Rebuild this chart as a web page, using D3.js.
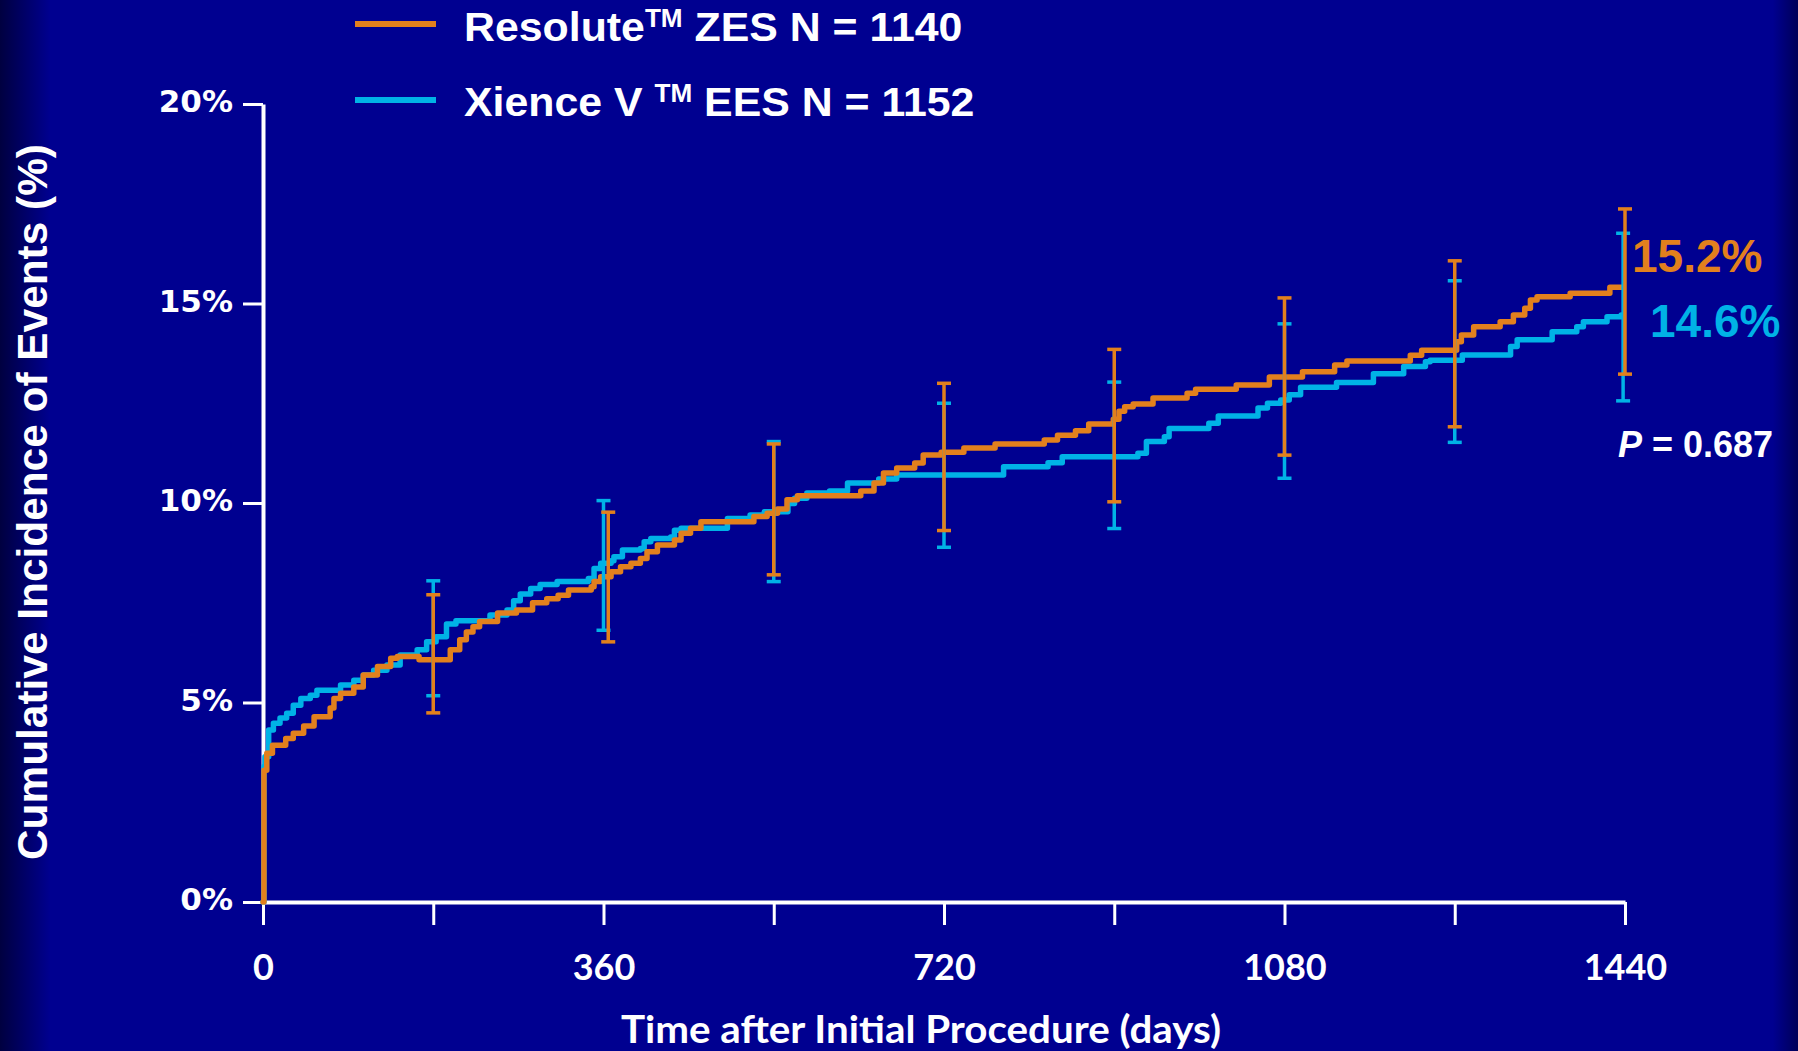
<!DOCTYPE html>
<html>
<head>
<meta charset="utf-8">
<script src="https://cdn.jsdelivr.net/npm/d3@7"></script>
<style>
  html, body { margin: 0; padding: 0; background: #000090; overflow: hidden; }
  svg { display: block; }
</style>
</head>
<body>
<script>
'use strict';

// Kaplan-Meier steps: [day, cumulative %]
const resoluteCurve = [
  [0, 0], [1, 3.3], [4, 3.73], [10, 3.93], [24, 4.1], [32, 4.23], [43, 4.41], [54, 4.64],
  [71, 4.86], [75, 5.1], [82, 5.23], [96, 5.39], [106, 5.69], [121, 5.9], [135, 6.11],
  [142, 6.15], [165, 6.07], [198, 6.32], [208, 6.57], [215, 6.77], [222, 6.9], [229, 7.03],
  [248, 7.24], [268, 7.32], [285, 7.5], [300, 7.6], [312, 7.69], [323, 7.82], [347, 7.9],
  [350, 8.03], [357, 8.15], [368, 8.28], [378, 8.4], [389, 8.49], [399, 8.61], [406, 8.78],
  [417, 8.95], [435, 9.07], [442, 9.24], [452, 9.37], [463, 9.53], [519, 9.66], [533, 9.74],
  [544, 9.85], [554, 10.08], [565, 10.18], [632, 10.3], [646, 10.5], [656, 10.75],
  [670, 10.88], [689, 11.0], [698, 11.2], [717, 11.27], [741, 11.38], [774, 11.48],
  [826, 11.58], [840, 11.7], [859, 11.81], [873, 11.98], [899, 12.1], [905, 12.3],
  [911, 12.41], [920, 12.48], [941, 12.63], [977, 12.75], [986, 12.85], [1029, 12.96],
  [1064, 13.16], [1099, 13.29], [1133, 13.46], [1146, 13.56], [1213, 13.7], [1225, 13.83],
  [1262, 14.04], [1267, 14.21], [1280, 14.42], [1308, 14.54], [1322, 14.71], [1334, 14.88],
  [1340, 15.09], [1347, 15.17], [1382, 15.26], [1424, 15.41], [1438, 15.41]
];

const xienceCurve = [
  [0, 0], [1, 3.4], [2, 3.64], [6, 4.31], [11, 4.48], [18, 4.61], [25, 4.73], [32, 4.93],
  [40, 5.1], [50, 5.18], [57, 5.31], [82, 5.44], [96, 5.56], [106, 5.69], [117, 5.81],
  [131, 5.94], [145, 6.19], [163, 6.32], [173, 6.52], [183, 6.65], [194, 6.97], [204, 7.05],
  [240, 7.19], [258, 7.32], [265, 7.55], [272, 7.72], [283, 7.86], [293, 7.96], [311, 8.03],
  [344, 8.11], [350, 8.36], [357, 8.49], [368, 8.55], [371, 8.65], [380, 8.82], [399, 8.86],
  [403, 9.03], [410, 9.11], [431, 9.15], [435, 9.32], [442, 9.37], [491, 9.61], [515, 9.7],
  [530, 9.78], [555, 9.99], [562, 10.12], [575, 10.25], [599, 10.3], [618, 10.5],
  [651, 10.6], [670, 10.7], [783, 10.91], [830, 11.01], [845, 11.16], [925, 11.25],
  [934, 11.54], [953, 11.66], [958, 11.87], [1000, 12.0], [1010, 12.18], [1052, 12.38],
  [1062, 12.5], [1076, 12.58], [1085, 12.71], [1097, 12.9], [1135, 13.02], [1174, 13.24],
  [1206, 13.42], [1229, 13.54], [1234, 13.58], [1268, 13.71], [1319, 13.92], [1326, 14.09],
  [1363, 14.29], [1389, 14.42], [1396, 14.54], [1421, 14.67], [1436, 14.71]
];

// 95% CI bars
const resoluteErrDays = [180, 365, 540, 720, 900, 1080, 1260, 1440];
const resoluteErrLow = [4.74, 6.52, 8.2, 9.31, 10.03, 11.2, 11.91, 13.23];
const resoluteErrHigh = [7.7, 9.77, 11.48, 13.0, 13.85, 15.14, 16.07, 17.37];

const xienceErrDays = [180, 360, 540, 720, 900, 1080, 1260, 1438];
const xienceErrLow = [5.17, 6.81, 8.03, 8.89, 9.36, 10.62, 11.52, 12.56];
const xienceErrHigh = [8.05, 10.06, 11.54, 12.5, 13.03, 14.49, 15.57, 16.76];

const xTicks = [0, 180, 360, 540, 720, 900, 1080, 1260, 1440];
const xTickLabels = ["0", "", "360", "", "720", "", "1080", "", "1440"];
const yTicks = [0, 5, 10, 15, 20];
const yTickLabels = ["0%", "5%", "10%", "15%", "20%"];

const seriesNames = ["Resolute", "Xience V"];
const seriesTags = ["ZES N = 1140", "EES N = 1152"];
const finalLabels = ["15.2%", "14.6%"];
const pValue = "0.687";

const colors = {
  "Resolute": "#e2801d",
  "Xience V": "#00b2e6"
};

let svgContainer = "";

window.onload = function () {
  svgContainer = d3.select('body')
    .append('svg')
    .attr('width', 1798)
    .attr('height', 1051);

  makeBackground();
  const map = drawAxes();
  plotData(map);
  makeLabels();
  createLegend();
};

function makeBackground() {
  const grad = svgContainer.append('defs')
    .append('linearGradient')
    .attr('id', 'bg')
    .attr('x1', 0).attr('x2', 1).attr('y1', 0).attr('y2', 0);
  grad.append('stop').attr('offset', '0').attr('stop-color', '#000040');
  grad.append('stop').attr('offset', '0.028').attr('stop-color', '#000090');
  grad.append('stop').attr('offset', '0.986').attr('stop-color', '#000090');
  grad.append('stop').attr('offset', '1').attr('stop-color', '#000058');

  svgContainer.append('rect')
    .attr('width', 1798)
    .attr('height', 1051)
    .attr('fill', 'url(#bg)');
}

function drawAxes() {
  const xScale = d3.scaleLinear()
    .domain([0, 1440])
    .range([263, 1625]);

  const yScale = d3.scaleLinear()
    .domain([0, 20])
    .range([902, 104]);

  const xAxis = d3.axisBottom(xScale)
    .tickValues(xTicks)
    .tickFormat((d, i) => xTickLabels[i])
    .tickSize(23)
    .tickSizeOuter(0);

  const gx = svgContainer.append('g')
    .attr('transform', 'translate(0, 902)')
    .call(xAxis);
  gx.select('.domain').attr('stroke', '#fff').attr('stroke-width', 4);
  gx.selectAll('.tick line').attr('stroke', '#fff').attr('stroke-width', 3);
  gx.selectAll('.tick text')
    .attr('fill', '#fff')
    .attr('y', 65)
    .attr('dy', '0.36em')
    .style('font-family', 'Lato, "Open Sans", sans-serif')
    .style('font-weight', 'bold')
    .style('font-size', '36px');

  const yAxis = d3.axisLeft(yScale)
    .tickValues(yTicks)
    .tickFormat((d, i) => yTickLabels[i])
    .tickSize(20)
    .tickPadding(10)
    .tickSizeOuter(0);

  const gy = svgContainer.append('g')
    .attr('transform', 'translate(263, 0)')
    .call(yAxis);
  gy.select('.domain').attr('stroke', '#fff').attr('stroke-width', 4);
  gy.selectAll('.tick line').attr('stroke', '#fff').attr('stroke-width', 3);
  gy.selectAll('.tick text')
    .attr('fill', '#fff')
    .attr('dy', '0.25em')
    .style('font-family', '"DejaVu Sans", Verdana, sans-serif')
    .style('font-weight', 'bold')
    .style('font-size', '31px');

  return { x: xScale, y: yScale };
}

function plotData(map) {
  const line = d3.line()
    .x(d => map.x(d[0]))
    .y(d => map.y(d[1]))
    .curve(d3.curveStepAfter);

  const curves = [
    { name: "Xience V", data: xienceCurve },
    { name: "Resolute", data: resoluteCurve }
  ];

  svgContainer.selectAll('.km')
    .data(curves)
    .enter()
    .append('path')
    .attr('class', 'km')
    .attr('d', d => line(d.data))
    .attr('fill', 'none')
    .attr('stroke', d => colors[d.name])
    .attr('stroke-width', 5.5)
    .attr('stroke-linejoin', 'round')
    .attr('stroke-linecap', 'round');

  const bars = [
    { name: "Xience V", days: xienceErrDays, lo: xienceErrLow, hi: xienceErrHigh },
    { name: "Resolute", days: resoluteErrDays, lo: resoluteErrLow, hi: resoluteErrHigh }
  ];

  bars.forEach(function (b) {
    const rows = b.days.map((d, i) => ({ day: d, lo: b.lo[i], hi: b.hi[i] }));
    const g = svgContainer.append('g')
      .attr('stroke', colors[b.name])
      .attr('stroke-width', 3.5);

    g.selectAll('.bar')
      .data(rows)
      .enter()
      .append('line')
      .attr('x1', d => map.x(d.day))
      .attr('x2', d => map.x(d.day))
      .attr('y1', d => map.y(d.lo))
      .attr('y2', d => map.y(d.hi));

    ['lo', 'hi'].forEach(function (k) {
      g.selectAll('.cap-' + k)
        .data(rows)
        .enter()
        .append('line')
        .attr('x1', d => map.x(d.day) - 7)
        .attr('x2', d => map.x(d.day) + 7)
        .attr('y1', d => map.y(d[k]))
        .attr('y2', d => map.y(d[k]));
    });
  });
}

function makeLabels() {
  svgContainer.append('text')
    .attr('transform', 'translate(47, 502)rotate(-90)')
    .attr('text-anchor', 'middle')
    .attr('fill', '#fff')
    .attr('textLength', 716)
    .attr('lengthAdjust', 'spacingAndGlyphs')
    .style('font-family', '"Liberation Sans Narrow", "Liberation Sans", Arial, sans-serif')
    .style('font-weight', 'bold')
    .style('font-size', '42px')
    .text('Cumulative Incidence of Events (%)');

  svgContainer.append('text')
    .attr('x', 921)
    .attr('y', 1043)
    .attr('text-anchor', 'middle')
    .attr('fill', '#fff')
    .attr('textLength', 600)
    .attr('lengthAdjust', 'spacingAndGlyphs')
    .style('font-family', 'Lato, "Open Sans", sans-serif')
    .style('font-weight', 'bold')
    .style('font-size', '38px')
    .text('Time after Initial Procedure (days)');

  svgContainer.append('text')
    .attr('x', 1632)
    .attr('y', 272)
    .attr('fill', colors["Resolute"])
    .style('font-family', '"Liberation Sans", Arial, sans-serif')
    .style('font-weight', 'bold')
    .style('font-size', '46px')
    .text(finalLabels[0]);

  svgContainer.append('text')
    .attr('x', 1650)
    .attr('y', 337)
    .attr('fill', colors["Xience V"])
    .style('font-family', '"Liberation Sans", Arial, sans-serif')
    .style('font-weight', 'bold')
    .style('font-size', '46px')
    .text(finalLabels[1]);

  const p = svgContainer.append('text')
    .attr('x', 1618)
    .attr('y', 457)
    .attr('fill', '#fff')
    .style('font-family', '"Liberation Sans", Arial, sans-serif')
    .style('font-weight', 'bold')
    .style('font-size', '36px');
  p.append('tspan').style('font-style', 'italic').text('P');
  p.append('tspan').text(' = ' + pValue);
}

function createLegend() {
  const rowsY = [24, 100];
  const baseY = [41, 116];

  svgContainer.selectAll('.legend-line')
    .data(seriesNames)
    .enter()
    .append('line')
    .attr('x1', 355)
    .attr('x2', 436)
    .attr('y1', (d, i) => rowsY[i])
    .attr('y2', (d, i) => rowsY[i])
    .attr('stroke', d => colors[d])
    .attr('stroke-width', 6);

  seriesNames.forEach(function (name, i) {
    // the slide's legend font is a little wider than Liberation Sans Bold
    const t = svgContainer.append('text')
      .attr('transform', 'translate(464,' + baseY[i] + ')scale(1.045,1)')
      .attr('fill', '#fff')
      .style('font-family', '"Liberation Sans", Arial, sans-serif')
      .style('font-weight', 'bold')
      .style('font-size', '41px');
    t.append('tspan').text(name + (i === 1 ? ' ' : ''));
    t.append('tspan').attr('dy', -14).style('font-size', '25px').text('TM');
    t.append('tspan').attr('dy', 14).text(' ' + seriesTags[i]);
  });
}
</script>
</body>
</html>
